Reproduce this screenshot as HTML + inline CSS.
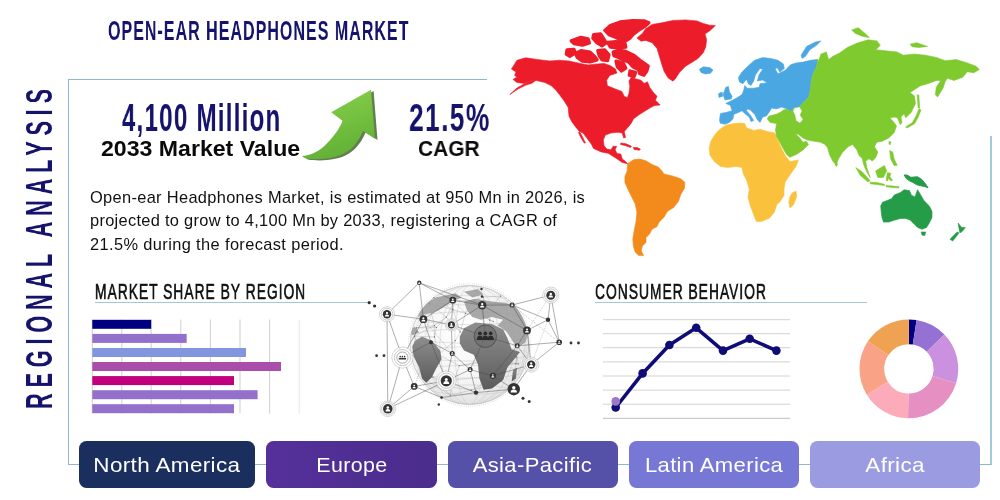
<!DOCTYPE html>
<html><head><meta charset="utf-8">
<style>
html,body{margin:0;padding:0;}
body{width:1000px;height:500px;position:relative;overflow:hidden;background:#fff;font-family:"Liberation Sans",sans-serif;}
.abs{position:absolute;}
.cond,.bold,.body,.btn span{will-change:transform;}
.cond{position:absolute;white-space:nowrap;transform-origin:0 0;line-height:1;font-weight:bold;}
.ln{position:absolute;background:#8fb8cc;}
.btn{position:absolute;top:441px;height:46.6px;border-radius:7.5px;color:#fff;font-size:20.4px;text-align:center;line-height:48px;}
.btn span{display:inline-block;transform:scaleX(1.1);letter-spacing:0.35px;}
.body{position:absolute;left:90px;top:185.8px;font-size:16.4px;letter-spacing:0.29px;line-height:23.4px;color:#111;white-space:nowrap;}
.bold{position:absolute;font-weight:bold;color:#0a0a0a;white-space:nowrap;line-height:1;}
</style></head><body>

<!-- frame -->
<div class="ln" style="left:68px;top:78.9px;width:418.8px;height:1.15px;"></div>
<div class="ln" style="left:68px;top:78.9px;width:1.3px;height:386.3px;"></div>
<div class="ln" style="left:68px;top:464px;width:11px;height:1.2px;"></div>
<div class="ln" style="left:990.1px;top:135.8px;width:1.6px;height:329.4px;background:#a3c9dc;"></div>
<div class="ln" style="left:980px;top:464px;width:11px;height:1.2px;"></div>
<div class="ln" style="left:255px;top:464px;width:11px;height:1.2px;"></div>
<div class="ln" style="left:436px;top:464px;width:12px;height:1.2px;"></div>
<div class="ln" style="left:617px;top:464px;width:12px;height:1.2px;"></div>
<div class="ln" style="left:799px;top:464px;width:11px;height:1.2px;"></div>

<!-- title -->
<div id="title" class="cond" style="left:107.6px;top:16.75px;font-size:27.2px;letter-spacing:1.7px;color:#15136c;transform:scaleX(0.59);">OPEN-EAR HEADPHONES MARKET</div>
<!-- vertical -->
<div id="vert" class="cond" style="left:21.5px;top:408.6px;font-size:36.3px;color:#15136c;letter-spacing:9.6px;transform:rotate(-90deg) scaleX(0.6);">REGIONAL ANALYSIS</div>

<div id="big1" class="cond" style="left:121.5px;top:98.6px;font-size:38.4px;letter-spacing:2px;color:#15136c;transform:scaleX(0.627);">4,100 Million</div>
<div id="sub1" class="bold" style="left:100.5px;top:137.8px;font-size:22.5px;transform-origin:0 0;transform:scaleX(1.027);">2033 Market Value</div>
<div id="big2" class="cond" style="left:408.6px;top:98.6px;font-size:38.4px;letter-spacing:2px;color:#15136c;transform:scaleX(0.687);">21.5%</div>
<div id="sub2" class="bold" style="left:417.5px;top:137.8px;font-size:22.5px;transform-origin:0 0;transform:scaleX(0.93);">CAGR</div>

<div class="body" id="body"><span style="letter-spacing:0.33px">Open-ear Headphones Market, is estimated at 950 Mn in 2026, is</span><br><span style="letter-spacing:0.3px">projected to grow to 4,100 Mn by 2033, registering a CAGR of</span><br><span style="letter-spacing:0.38px">21.5% during the forecast period.</span></div>

<div id="h1" class="cond" style="left:95px;top:281.1px;font-size:22px;letter-spacing:1.6px;font-weight:normal;color:#111;-webkit-text-stroke:0.65px #111;transform:scaleX(0.628);">MARKET SHARE BY REGION</div>
<div class="ln" style="left:95px;top:301.85px;width:273px;height:1.25px;background:#a4c6dc;"></div>
<div id="h2" class="cond" style="left:594.5px;top:281.1px;font-size:22px;letter-spacing:1.6px;font-weight:normal;color:#111;-webkit-text-stroke:0.65px #111;transform:scaleX(0.628);">CONSUMER BEHAVIOR</div>
<div class="ln" style="left:595px;top:301.85px;width:271.5px;height:1.25px;background:#a4c6dc;"></div>

<!-- buttons -->
<div class="btn" style="left:79px;width:176px;background:#1b2f5e;"><span>North America</span></div>
<div class="btn" style="left:266px;width:171px;background:linear-gradient(90deg,#55309a,#4a2d8c);"><span style="transform:scaleX(1.05)">Europe</span></div>
<div class="btn" style="left:447.5px;width:170px;background:#5550a8;"><span style="transform:scaleX(1.078)">Asia-Pacific</span></div>
<div class="btn" style="left:628.5px;width:170.5px;background:#7777d6;"><span style="transform:scaleX(1.08)">Latin America</span></div>
<div class="btn" style="left:810px;width:170px;background:#9b9be2;"><span>Africa</span></div>

<!-- main svg -->
<svg class="abs" style="left:0;top:0;" width="1000" height="500" viewBox="0 0 1000 500">
<!-- BARS -->
<g id="bars">
 <g stroke="#cfcfd6" stroke-width="1">
  <line x1="92.3" y1="319.5" x2="92.3" y2="413.5"/><line x1="121.8" y1="319.5" x2="121.8" y2="413.5"/><line x1="151.2" y1="319.5" x2="151.2" y2="413.5"/><line x1="180.8" y1="319.5" x2="180.8" y2="413.5"/><line x1="210.4" y1="319.5" x2="210.4" y2="413.5"/><line x1="240" y1="319.5" x2="240" y2="413.5"/><line x1="269.6" y1="319.5" x2="269.6" y2="413.5"/><line x1="299.2" y1="319.5" x2="299.2" y2="413.5" stroke="#e6e6ea"/>
 </g>
 <rect x="92.3" y="319.8" width="58.9" height="9" fill="#000080"/>
 <rect x="92.3" y="333.9" width="94.4" height="9" fill="#9370cc"/>
 <rect x="92.3" y="348" width="153.7" height="9" fill="#8296e0"/>
 <rect x="92.3" y="362" width="188.7" height="9" fill="#a94fab"/>
 <rect x="92.3" y="376.1" width="141.7" height="9" fill="#c0007c"/>
 <rect x="92.3" y="390.2" width="165.3" height="9" fill="#9370cc"/>
 <rect x="92.3" y="404.2" width="141.7" height="9" fill="#9370cc"/>
</g>
<!-- LINE CHART -->
<g id="linechart">
 <g stroke="#d2d2d2" stroke-width="1">
  <line x1="603" x2="790" y1="319.7" y2="319.7"/><line x1="603" x2="790" y1="333.7" y2="333.7"/><line x1="603" x2="790" y1="347.7" y2="347.7"/><line x1="603" x2="790" y1="361.9" y2="361.9"/><line x1="603" x2="790" y1="376" y2="376"/><line x1="603" x2="790" y1="390.1" y2="390.1"/><line x1="603" x2="790" y1="404.2" y2="404.2"/><line x1="603" x2="790" y1="418.3" y2="418.3" stroke="#bdbdbd"/>
 </g>
 <polyline fill="none" stroke="#0f0c78" stroke-width="3.6" stroke-linejoin="round" points="615.7,407.5 642.6,373.4 669.4,345 696.2,327.8 723,350.6 749.7,338.8 776.4,350.6"/>
 <g fill="#0f0c78"><circle cx="615.7" cy="407.5" r="4.3"/><circle cx="642.6" cy="373.4" r="4.3"/><circle cx="669.4" cy="345" r="4.3"/><circle cx="696.2" cy="327.8" r="4.3"/><circle cx="723" cy="350.6" r="4.3"/><circle cx="749.7" cy="338.8" r="4.3"/><circle cx="776.4" cy="350.6" r="4.3"/></g>
 <circle cx="615.7" cy="401.4" r="4.3" fill="#9c78c8"/>
</g>
<g id="donut">
<path d="M908.9,319.5A49.4,49.4 0 0 1 916.6,320.1L912.8,344.5A24.7,24.7 0 0 0 908.9,344.2Z" fill="#000080"/>
<path d="M916.6,320.1A49.4,49.4 0 0 1 944.4,334.6L926.7,351.7A24.7,24.7 0 0 0 912.8,344.5Z" fill="#9471d2"/>
<path d="M944.4,334.6A49.4,49.4 0 0 1 956.1,383.3L932.5,376.1A24.7,24.7 0 0 0 926.7,351.7Z" fill="#cb90de"/>
<path d="M956.1,383.3A49.4,49.4 0 0 1 908.0,418.3L908.5,393.6A24.7,24.7 0 0 0 932.5,376.1Z" fill="#e68fc2"/>
<path d="M908.0,418.3A49.4,49.4 0 0 1 866.8,394.7L887.8,381.8A24.7,24.7 0 0 0 908.5,393.6Z" fill="#fbabba"/>
<path d="M866.8,394.7A49.4,49.4 0 0 1 867.9,341.3L888.4,355.1A24.7,24.7 0 0 0 887.8,381.8Z" fill="#f9a286"/>
<path d="M867.9,341.3A49.4,49.4 0 0 1 908.9,319.5L908.9,344.2A24.7,24.7 0 0 0 888.4,355.1Z" fill="#f0a253"/>
</g>
<defs><linearGradient id="ag" x1="0" y1="0" x2="0.3" y2="1"><stop offset="0" stop-color="#8ad24c"/><stop offset="1" stop-color="#63b236"/></linearGradient></defs>
<g id="arrow">
<path id="arrsh" transform="translate(2.6,1.4)" fill="#647e50" d="M301.8,155.9 C310,155.6 320,151.5 327.3,142.9 C334,136.5 339.5,128.5 342.6,120.8 L331.2,112.3 L371,89.7 L374.9,138.7 L363,131 C361,135.5 359,139.5 356.2,142.9 C353,147 350,150 346,152.3 C341.5,155 337.5,156.5 332.4,157.4 C327,158.6 322,159.1 317.1,159.1 C312.5,159 308.5,158.8 305.2,158.2 Z"/>
<path fill="url(#ag)" d="M301.8,155.9 C310,155.6 320,151.5 327.3,142.9 C334,136.5 339.5,128.5 342.6,120.8 L331.2,112.3 L371,89.7 L374.9,138.7 L363,131 C361,135.5 359,139.5 356.2,142.9 C353,147 350,150 346,152.3 C341.5,155 337.5,156.5 332.4,157.4 C327,158.6 322,159.1 317.1,159.1 C312.5,159 308.5,158.8 305.2,158.2 Z"/>
</g>
<g id="map" stroke-linejoin="round">
<polygon fill="#ec1c2a" stroke="#ec1c2a" stroke-width="0.6" points="517,60.2 525.8,57.8 537,59.4 549.8,61 559.4,60.2 569,61 580.2,63.4 588.2,65 594.6,64.2 604.2,63.4 610.6,65.8 615.4,69 617,73 609.8,75.4 606.6,80.2 607.4,85.8 615.4,89 621.8,91.4 624.2,96.2 627.4,97.8 629,93 629.8,86.6 629,81 631.4,77 634.6,78.6 641,80.2 644.2,83.4 647.4,81.8 649.8,87.4 653.8,93 657,96.2 655.4,100.2 660.2,105 654.6,105.5 650.2,107.8 644.6,111.3 639,114.8 633.4,119 631.3,123.2 627.8,127.4 624.3,131.6 625.5,137.5 623.6,137.9 622.2,133 618,132.3 611,133 605.4,135.1 603.3,140 604,145.6 606.8,149.1 611,149.8 613.1,146.3 616.6,146.3 615.2,149.8 617,153.5 620.8,154 622.2,158.9 625,161 627.8,163.8 622.2,162.4 618,159.6 613.8,156.8 608.2,153.3 601.2,151.9 593.5,148.4 591.4,144.2 587.2,138.6 583,133 579.5,131.6 576,127.4 571.8,121.8 569,116.2 568.3,109.2 568.2,107.4 564.2,101 559.4,94.6 556.2,90.6 551.4,85.8 545,82.6 535.4,80.2 530.6,81 524.2,83.4 517,82.6 513,79.4 517,77 514.6,75.4 516,72 511.4,69 514,65"/>
<polygon fill="#ec1c2a" stroke="#ec1c2a" stroke-width="0.6" points="536,80.3 530,81.2 524,84 517,88 509.8,94.6 518,89 526,85 532,83.2"/>
<polygon fill="#ec1c2a" stroke="#ec1c2a" stroke-width="0.6" points="579.5,131.6 582,136 585.5,143 584.2,143 580.5,137 578.5,132.5"/>
<polygon fill="#ec1c2a" stroke="#ec1c2a" stroke-width="3.3" points="604.8,30.4 610.4,25.5 620.2,22 632.8,20.6 644,20.9 648.9,22.7 644,26.9 638.4,30.4 632.8,34.6 630,38.1 625.8,40.9 620.2,40.2 616,37.4 609,34.6"/>
<polygon fill="#ec1c2a" stroke="#ec1c2a" stroke-width="3.3" points="571.2,40.9 581,37.4 588,38.8 589.4,43 582.4,45.1 574,43.7"/>
<polygon fill="#ec1c2a" stroke="#ec1c2a" stroke-width="3.3" points="593.6,34.6 600.6,33.9 603.4,38.1 606.2,43 602,45.8 596.4,42.3 592.9,38.1"/>
<polygon fill="#ec1c2a" stroke="#ec1c2a" stroke-width="3.3" points="607.6,42.3 616,41.6 625.1,43.7 625.8,47.2 618.8,47.9 610.4,47.2"/>
<polygon fill="#ec1c2a" stroke="#ec1c2a" stroke-width="3.3" points="567,50 574,49.3 575.4,52.8 569.8,56.3 566.3,54.2"/>
<polygon fill="#ec1c2a" stroke="#ec1c2a" stroke-width="3.3" points="575.4,53.5 581,50.7 590.1,52.1 595,57 597.1,59.8 590.1,61.9 582.4,61.2 577.5,57.7"/>
<polygon fill="#ec1c2a" stroke="#ec1c2a" stroke-width="3.3" points="597.8,50.7 604.8,50 609,54.9 607.6,60.5 602,59.8 599.2,55.6"/>
<polygon fill="#ec1c2a" stroke="#ec1c2a" stroke-width="3.3" points="613.2,52.1 618.8,50 625.8,51.4 634.2,55.6 641.2,61.2 648.2,66.1 646.8,71 644,75.2 639.8,73.8 638.4,69.6 632.8,66.8 628.6,61.9 623,59.8 617.4,57 613.9,55.6"/>
<polygon fill="#ec1c2a" stroke="#ec1c2a" stroke-width="3.3" points="616,61.2 623,62.6 625.8,68.2 621.6,71 617.4,66.8"/>
<polygon fill="#ec1c2a" stroke="#ec1c2a" stroke-width="3.3" points="630,71 635.6,72.4 634.2,76.6 629.3,75.2"/>
<polygon fill="#ec1c2a" stroke="#ec1c2a" stroke-width="0.6" points="620.8,143 626,143.8 631.5,146.3 630.5,147.4 625,145.6 620.5,144.4"/>
<polygon fill="#ec1c2a" stroke="#ec1c2a" stroke-width="0.6" points="633.4,147.4 637,147.6 640.4,149 639.5,150.2 634,149.4"/>
<polygon fill="#ec1c2a" stroke="#ec1c2a" stroke-width="0.6" points="637,38 642.6,33.2 645.8,28.4 652.2,24.4 661.8,22.8 673,20.4 685.8,19.9 697,20.9 703.4,23.6 709.8,25.2 715.4,25.5 709.8,30.8 705,34 706.6,39.6 705.8,46.8 703.4,52.4 698.6,58 693.8,61.2 685.8,66 679.4,72.4 675.4,78.8 673,81.2 668.2,78 664.2,71.6 661.8,64.4 659.4,56.4 657,48.4 652.2,42.8 645.8,40.4 641,41.2"/>
<polygon fill="#f38b1c" stroke="#f38b1c" stroke-width="0.6" points="628,163.2 634,159.6 640,159.1 646,160.8 652,164.4 658,166.8 661.6,170.4 664,174 672.4,175.9 680.8,178.8 684.9,182.4 684.4,188.4 680.8,194.4 678.4,201.6 673.6,207.6 667.6,211.2 664,217.2 659.2,222 656.8,226.8 652,229.2 649.6,234 646,237.6 646,242.4 642.4,246 641.2,250.8 643.6,255.6 638.8,255.6 635.2,252 633.3,246 632.8,238.8 634,231.6 635.9,222 636.9,212.4 635.2,204 631.6,196.8 628,189.6 624.9,182.4 624.9,176.4 627.3,170.4 627.3,165.6"/>
<polygon fill="#fac23c" stroke="#fac23c" stroke-width="0.6" points="721.6,128 726.4,124.9 736,123.2 744.4,123.2 746.8,128 754,130.4 760,129.2 767.2,131.6 774.4,132.8 776.8,136.4 780.4,146 785.2,155.6 790,161.6 798.4,159.9 796,166.4 790,174.8 785.2,182 784,189.2 784,195.2 780.4,201.2 776.8,204.8 774.4,212 769.6,218 761.2,221.6 756.4,221.6 754,215.6 750.4,206 748,197.6 749.2,189.2 746.8,180.8 743.2,173.6 742,167.6 736,166.4 727.6,167.6 720.4,166.4 714.4,161.6 710.1,155.6 709.1,148.4 710.8,141.2 714.4,135.2 718,131.1"/>
<polygon fill="#fac23c" stroke="#fac23c" stroke-width="0.6" points="792.4,192.8 796,191.1 796.7,196.4 793.6,204.8 790,207.9 788.8,202.4 790,196.4"/>
<polygon fill="#4aa7e1" stroke="#4aa7e1" stroke-width="0.6" points="719.5,120.6 720.4,113.4 725.8,112.5 732.1,110.7 730.3,105.3 725.8,103.5 731.2,100.8 736.6,98.1 742,94.5 743.8,90 744.7,85.5 747.4,88.2 753.7,88.2 759.1,87.3 760,83.7 767.2,82.8 762.7,80.1 757.3,81 759.1,74.7 762.7,69.3 760,68.4 755.5,74.7 753.7,81 751,85.5 748.3,83.7 746.5,79.2 742.9,83.7 739.3,81.9 738.4,77.4 742,72 748.3,65.7 754.6,60.3 762.7,57.6 770.8,58.5 778,60.3 783.4,63.9 784.3,68.4 779.8,72 777.1,67.5 775.3,69.3 778,73.8 785.2,70.2 790.6,64.8 796,63 803.2,62.1 810.4,60.3 817.6,59.4 816.7,66.6 813.1,73.8 811.3,81 810.4,90 808.6,97.2 803.2,102.6 799.6,107.1 794.2,108 790.6,111.6 787,108.9 781.6,107.1 776.2,108.9 771.7,108 769,112.5 766.3,116.1 762.7,117 760,122.4 757.3,119.7 754.6,114.3 750.1,109.8 747.4,108.9 746.5,110.7 751,116.1 753.7,120.6 751,121.5 749.2,117 744.7,113.4 742,110.7 738.4,112.5 733.9,114.3 733,118.8 729.4,122.4 724.9,124.2 720.4,123.3"/>
<polygon fill="#4aa7e1" stroke="#4aa7e1" stroke-width="0.6" points="723.1,94.5 725.8,87.3 728.5,86.4 729.4,91.8 732.1,96.3 731.2,99 724.9,99.9"/>
<polygon fill="#4aa7e1" stroke="#4aa7e1" stroke-width="0.6" points="718.6,93.6 722.2,92.1 722.6,96.3 719,97.5"/>
<polygon fill="#4aa7e1" stroke="#4aa7e1" stroke-width="0.6" points="699.4,69.2 703.4,66.8 709.8,67.6 713,70 710.6,73.2 705,74 701,72.4"/>
<polygon fill="#4aa7e1" stroke="#4aa7e1" stroke-width="0.6" points="801.1,55.2 806.6,46.4 815.4,42 820.9,40.9 816.5,45.3 809.9,49.7 805.5,56.3 802.2,58.5"/>
<polygon fill="#7fca2e" stroke="#7fca2e" stroke-width="0.6" points="817.6,59.4 818.7,60.7 820.9,54.1 826.4,51.9 828.6,59.6 833,56.3 839.6,53 847.3,47.5 857.2,43.1 868.2,39.8 877,40.9 880.3,45.3 875.9,49.7 885.8,50.8 896.8,51.9 903.4,55.2 914.4,54.1 925.4,55.2 936.4,57.4 945.2,60.7 956.2,59.6 967.2,62.9 976,66.2 979.3,69.5 973.8,72.8 967.2,71.7 962.8,77.2 954,80.5 947.4,78.3 945.2,81.6 943,88.2 937.5,97 935.3,94.8 936.4,87.1 940.8,80.5 936.4,80.5 927.6,83.8 919.9,86 913.3,90.4 910,92.6 914.4,95.9 915.5,103.6 911.1,112.4 905.6,117.9 904.2,113.7 900.9,117 902,122.5 900.2,124.7 897.6,118.1 894.3,117 889.9,118.1 893.2,121.4 896.5,125.8 894.3,132.4 888.8,137.9 882.2,141.2 876.7,142.3 874.5,146.7 877.8,152.2 875.6,157.7 872.3,161 869,158.8 865.7,161 866.8,167.6 870.1,177.5 866.8,172 863.5,164.3 862.4,158.8 859.1,155.5 856.9,150 852.5,144.5 848.1,146.7 842.6,152.2 838.6,158.8 836,165 832.7,161 829.4,154.4 827.6,147.8 825,144.5 820.6,142.3 814,141.2 807.4,140.1 803,137.9 798.6,134.6 795.3,133.5 799.7,137.9 803,142.3 806.3,141.2 808.5,144.5 803,150 796.4,154.4 789.8,157.3 786.5,154.4 782.1,146.7 777.7,137.9 776.6,136.8 775.5,130.2 776.6,123.6 770,122.5 767.2,118.8 769,116.1 776.2,114.3 781,112 783.4,110 787,108.9 790.6,111.6 794.2,108 799.6,107.1 803.2,102.6 808.6,97.2 810.4,90 811.3,81 813.1,73.8 816.7,66.6"/>
<polygon fill="#ffffff" stroke="#ffffff" stroke-width="0.6" points="794.5,108.5 799.5,107.5 801.5,111 799.5,115 802.5,119.5 800,122.5 796.5,120.5 795.5,115 793.5,111.5"/>
<polygon fill="#7fca2e" stroke="#7fca2e" stroke-width="0.6" points="851.7,29.9 858.3,27.7 866,34.3 869.3,37.6 862.7,36.5 855,33.2"/>
<polygon fill="#7fca2e" stroke="#7fca2e" stroke-width="0.6" points="910,44.2 916.6,42.7 927.6,46.4 918.8,47.5 912.2,46.8"/>
<polygon fill="#7fca2e" stroke="#7fca2e" stroke-width="0.6" points="917.2,94.8 918.8,95 919.6,108 918.2,108"/>
<polygon fill="#7fca2e" stroke="#7fca2e" stroke-width="0.6" points="919,108.8 921,110 918,117.5 914.5,123.8 907,128 905.6,127 912.5,122.5 916,116"/>
<polygon fill="#7fca2e" stroke="#7fca2e" stroke-width="0.6" points="889.6,150.5 892.8,152.2 894,158.6 897.2,165.4 894,165.4 890.7,159"/>
<polygon fill="#7fca2e" stroke="#7fca2e" stroke-width="0.6" points="875.6,170.9 884.4,165.4 886.6,170.9 883.3,177.5 877.8,177.5"/>
<polygon fill="#7fca2e" stroke="#7fca2e" stroke-width="0.6" points="855.8,167.6 862.4,172 870.1,180.8 867.9,181.9 860.2,175.3"/>
<polygon fill="#7fca2e" stroke="#7fca2e" stroke-width="0.6" points="870.1,182.2 877,182.6 884.4,184.2 884.4,185.6 877,184.6 870.1,183.8"/>
<polygon fill="#7fca2e" stroke="#7fca2e" stroke-width="0.6" points="886,185.5 893,186 899,186.8 899,188 892,187.4 886,186.8"/>
<polygon fill="#7fca2e" stroke="#7fca2e" stroke-width="0.6" points="887.5,172.5 891,173.5 889.8,176.5 892.5,180.3 890.5,180.8 888.6,178 887.6,181 886.2,180.8 886.8,176"/>
<polygon fill="#7fca2e" stroke="#7fca2e" stroke-width="0.6" points="889,141.5 890.8,141.8 890.4,144.6 889,144.2"/>
<polygon fill="#7fca2e" stroke="#7fca2e" stroke-width="0.6" points="835.6,162.8 837.4,163.6 836.8,166.2 835.4,165.4"/>
<polygon fill="#259c48" stroke="#259c48" stroke-width="0.6" points="880.7,205.9 882.5,202.3 891.5,198.7 894.2,195.1 900.5,192.4 904.1,189.7 909.5,190.6 911.3,195.1 914.9,196.9 917.6,189.7 920.3,194.2 923.9,200.5 929.3,205.9 932,211.3 932,217.6 929.3,223 926.6,227.5 922.1,229.3 917.6,227.5 913.1,223 910.4,220.3 905.9,218.5 900.5,218.5 894.2,220.3 888.8,222.1 883.4,222.1 882,217.6 881.2,212.2"/>
<polygon fill="#259c48" stroke="#259c48" stroke-width="0.6" points="921.2,232 925.7,232 924.8,235.6 922.1,235.2"/>
<polygon fill="#259c48" stroke="#259c48" stroke-width="0.6" points="958.1,223 961.7,227.5 965.3,227.5 962.6,231.1 959.9,232.9 959,228.4"/>
<polygon fill="#259c48" stroke="#259c48" stroke-width="0.6" points="959,232.9 956.3,236.5 952.7,241 950,239.2 953.6,235.6 957.2,232"/>
<polygon fill="#259c48" stroke="#259c48" stroke-width="1.0" points="904.1,175 907,175 910.8,177.3 917.4,176.8 921.5,179.2 924.6,182.7 928,187.6 924,186.4 920,185.6 916.3,184.6 913,182.4 909.8,181 906.4,178.6"/>
</g>
<g id="globe">
<defs><radialGradient id="gg" cx="0.45" cy="0.4" r="0.6"><stop offset="0" stop-color="#ffffff"/><stop offset="0.7" stop-color="#f4f4f4"/><stop offset="1" stop-color="#e2e2e2"/></radialGradient><linearGradient id="lg" x1="0" y1="0" x2="0" y2="1"><stop offset="0" stop-color="#8e8e8e"/><stop offset="1" stop-color="#5c5c5c"/></linearGradient><clipPath id="gc"><circle cx="469.6" cy="345.0" r="59.6"/></clipPath></defs>
<circle cx="469.6" cy="345.0" r="59.6" fill="url(#gg)" stroke="#b5b5b5" stroke-width="0.6"/>
<g fill="none" stroke="#c4c4c4" stroke-width="0.45" clip-path="url(#gc)"><ellipse cx="469.6" cy="345.0" rx="14.9" ry="59.6"/><ellipse cx="469.6" cy="345.0" rx="29.8" ry="59.6"/><ellipse cx="469.6" cy="345.0" rx="44.7" ry="59.6"/><ellipse cx="469.6" cy="345.0" rx="55.4" ry="59.6"/><ellipse cx="469.6" cy="300.3" rx="39.4" ry="4.7"/><ellipse cx="469.6" cy="318.2" rx="53.2" ry="6.4"/><ellipse cx="469.6" cy="336.1" rx="58.9" ry="7.1"/><ellipse cx="469.6" cy="353.9" rx="58.9" ry="7.1"/><ellipse cx="469.6" cy="371.8" rx="53.2" ry="6.4"/><ellipse cx="469.6" cy="389.7" rx="39.4" ry="4.7"/></g>
<g stroke="#9d9d9d" stroke-width="0.35" clip-path="url(#gc)"><line x1="459.2" y1="365.7" x2="479.6" y2="362.8"/><line x1="459.2" y1="365.7" x2="451.7" y2="387.0"/><line x1="459.2" y1="365.7" x2="482.2" y2="361.1"/><line x1="459.2" y1="365.7" x2="438.4" y2="354.5"/><line x1="460.2" y1="332.0" x2="455.3" y2="340.6"/><line x1="460.2" y1="332.0" x2="465.5" y2="313.3"/><line x1="460.2" y1="332.0" x2="446.2" y2="317.1"/><line x1="460.2" y1="332.0" x2="453.1" y2="309.7"/><line x1="434.5" y1="336.9" x2="436.4" y2="327.5"/><line x1="434.5" y1="336.9" x2="434.3" y2="325.6"/><line x1="434.5" y1="336.9" x2="438.4" y2="354.5"/><line x1="434.5" y1="336.9" x2="414.5" y2="336.2"/><line x1="509.3" y1="360.1" x2="507.8" y2="354.2"/><line x1="509.3" y1="360.1" x2="504.5" y2="364.4"/><line x1="509.3" y1="360.1" x2="515.9" y2="363.6"/><line x1="509.3" y1="360.1" x2="516.8" y2="356.9"/><line x1="507.8" y1="354.2" x2="509.7" y2="350.7"/><line x1="507.8" y1="354.2" x2="516.8" y2="356.9"/><line x1="507.8" y1="354.2" x2="504.5" y2="364.4"/><line x1="485.8" y1="352.6" x2="494.8" y2="354.9"/><line x1="485.8" y1="352.6" x2="482.2" y2="361.1"/><line x1="485.8" y1="352.6" x2="482.3" y2="343.1"/><line x1="485.8" y1="352.6" x2="489.9" y2="342.5"/><line x1="421.4" y1="369.7" x2="424.5" y2="370.5"/><line x1="421.4" y1="369.7" x2="426.5" y2="380.2"/><line x1="421.4" y1="369.7" x2="432.9" y2="377.0"/><line x1="421.4" y1="369.7" x2="421.7" y2="352.9"/><line x1="489.7" y1="364.8" x2="490.0" y2="366.5"/><line x1="489.7" y1="364.8" x2="482.2" y2="361.1"/><line x1="489.7" y1="364.8" x2="479.6" y2="362.8"/><line x1="489.7" y1="364.8" x2="494.8" y2="354.9"/><line x1="429.2" y1="303.4" x2="433.8" y2="297.6"/><line x1="429.2" y1="303.4" x2="446.2" y2="317.1"/><line x1="429.2" y1="303.4" x2="434.3" y2="325.6"/><line x1="429.2" y1="303.4" x2="453.1" y2="309.7"/><line x1="436.4" y1="327.5" x2="434.3" y2="325.6"/><line x1="436.4" y1="327.5" x2="446.2" y2="317.1"/><line x1="436.4" y1="327.5" x2="416.3" y2="327.9"/><line x1="482.3" y1="343.1" x2="489.9" y2="342.5"/><line x1="482.3" y1="343.1" x2="494.8" y2="354.9"/><line x1="482.3" y1="343.1" x2="482.2" y2="361.1"/><line x1="489.8" y1="320.1" x2="493.3" y2="321.5"/><line x1="489.8" y1="320.1" x2="483.5" y2="316.4"/><line x1="489.8" y1="320.1" x2="489.9" y2="342.5"/><line x1="489.8" y1="320.1" x2="483.3" y2="297.1"/><line x1="482.2" y1="361.1" x2="479.6" y2="362.8"/><line x1="482.2" y1="361.1" x2="490.0" y2="366.5"/><line x1="450.3" y1="395.2" x2="451.7" y2="387.0"/><line x1="450.3" y1="395.2" x2="471.3" y2="390.1"/><line x1="450.3" y1="395.2" x2="432.9" y2="377.0"/><line x1="450.3" y1="395.2" x2="426.5" y2="380.2"/><line x1="488.8" y1="386.2" x2="493.7" y2="379.0"/><line x1="488.8" y1="386.2" x2="471.3" y2="390.1"/><line x1="488.8" y1="386.2" x2="490.0" y2="366.5"/><line x1="446.2" y1="317.1" x2="453.1" y2="309.7"/><line x1="446.2" y1="317.1" x2="434.3" y2="325.6"/><line x1="446.2" y1="317.1" x2="454.1" y2="301.7"/><line x1="455.3" y1="340.6" x2="438.4" y2="354.5"/><line x1="494.8" y1="354.9" x2="490.0" y2="366.5"/><line x1="453.1" y1="309.7" x2="454.1" y2="301.7"/><line x1="453.1" y1="309.7" x2="465.5" y2="313.3"/><line x1="453.1" y1="309.7" x2="433.8" y2="297.6"/><line x1="451.7" y1="387.0" x2="471.3" y2="390.1"/><line x1="451.7" y1="387.0" x2="432.9" y2="377.0"/><line x1="438.4" y1="354.5" x2="421.7" y2="352.9"/><line x1="438.4" y1="354.5" x2="424.5" y2="370.5"/><line x1="483.3" y1="297.1" x2="473.7" y2="300.1"/><line x1="483.3" y1="297.1" x2="500.6" y2="296.1"/><line x1="483.3" y1="297.1" x2="483.5" y2="316.4"/><line x1="471.3" y1="390.1" x2="493.7" y2="379.0"/><line x1="414.5" y1="336.2" x2="416.3" y2="327.9"/><line x1="414.5" y1="336.2" x2="421.7" y2="352.9"/><line x1="414.5" y1="336.2" x2="434.3" y2="325.6"/><line x1="465.5" y1="313.3" x2="473.7" y2="300.1"/><line x1="465.5" y1="313.3" x2="454.1" y2="301.7"/><line x1="465.5" y1="313.3" x2="483.5" y2="316.4"/><line x1="424.5" y1="370.5" x2="426.5" y2="380.2"/><line x1="424.5" y1="370.5" x2="432.9" y2="377.0"/><line x1="424.5" y1="370.5" x2="421.7" y2="352.9"/><line x1="493.7" y1="379.0" x2="490.0" y2="366.5"/><line x1="493.7" y1="379.0" x2="504.5" y2="364.4"/><line x1="516.8" y1="356.9" x2="515.9" y2="363.6"/><line x1="516.8" y1="356.9" x2="518.3" y2="363.9"/><line x1="516.8" y1="356.9" x2="509.7" y2="350.7"/><line x1="473.7" y1="300.1" x2="483.5" y2="316.4"/><line x1="473.7" y1="300.1" x2="454.1" y2="301.7"/><line x1="493.3" y1="321.5" x2="483.5" y2="316.4"/><line x1="434.3" y1="325.6" x2="416.3" y2="327.9"/><line x1="500.6" y1="296.1" x2="483.5" y2="316.4"/><line x1="515.9" y1="363.6" x2="518.3" y2="363.9"/><line x1="515.9" y1="363.6" x2="504.5" y2="364.4"/><line x1="432.9" y1="377.0" x2="426.5" y2="380.2"/><line x1="479.6" y1="362.8" x2="490.0" y2="366.5"/><line x1="518.3" y1="363.9" x2="504.5" y2="364.4"/></g>
<g fill="#555"><circle cx="459.2" cy="365.7" r="0.55"/><circle cx="460.2" cy="332.0" r="0.55"/><circle cx="434.5" cy="336.9" r="0.55"/><circle cx="509.3" cy="360.1" r="0.55"/><circle cx="507.8" cy="354.2" r="0.55"/><circle cx="485.8" cy="352.6" r="0.55"/><circle cx="421.4" cy="369.7" r="0.55"/><circle cx="489.7" cy="364.8" r="0.55"/><circle cx="429.2" cy="303.4" r="0.55"/><circle cx="436.4" cy="327.5" r="0.55"/><circle cx="482.3" cy="343.1" r="0.55"/><circle cx="489.8" cy="320.1" r="0.55"/><circle cx="482.2" cy="361.1" r="0.55"/><circle cx="450.3" cy="395.2" r="0.55"/><circle cx="488.8" cy="386.2" r="0.55"/><circle cx="446.2" cy="317.1" r="0.55"/><circle cx="455.3" cy="340.6" r="0.55"/><circle cx="494.8" cy="354.9" r="0.55"/><circle cx="453.1" cy="309.7" r="0.55"/><circle cx="451.7" cy="387.0" r="0.55"/><circle cx="438.4" cy="354.5" r="0.55"/><circle cx="483.3" cy="297.1" r="0.55"/><circle cx="471.3" cy="390.1" r="0.55"/><circle cx="414.5" cy="336.2" r="0.55"/><circle cx="465.5" cy="313.3" r="0.55"/><circle cx="489.9" cy="342.5" r="0.55"/><circle cx="424.5" cy="370.5" r="0.55"/><circle cx="493.7" cy="379.0" r="0.55"/><circle cx="516.8" cy="356.9" r="0.55"/><circle cx="473.7" cy="300.1" r="0.55"/><circle cx="493.3" cy="321.5" r="0.55"/><circle cx="454.1" cy="301.7" r="0.55"/><circle cx="434.3" cy="325.6" r="0.55"/><circle cx="500.6" cy="296.1" r="0.55"/><circle cx="421.7" cy="352.9" r="0.55"/><circle cx="515.9" cy="363.6" r="0.55"/><circle cx="433.8" cy="297.6" r="0.55"/><circle cx="483.5" cy="316.4" r="0.55"/><circle cx="432.9" cy="377.0" r="0.55"/><circle cx="509.7" cy="350.7" r="0.55"/><circle cx="479.6" cy="362.8" r="0.55"/><circle cx="518.3" cy="363.9" r="0.55"/><circle cx="490.0" cy="366.5" r="0.55"/><circle cx="426.5" cy="380.2" r="0.55"/><circle cx="504.5" cy="364.4" r="0.55"/><circle cx="416.3" cy="327.9" r="0.55"/></g>
<circle cx="469.6" cy="345.0" r="61.2" fill="none" stroke="#8a8a8a" stroke-width="0.5" stroke-dasharray="0.6 1.6"/>
<g clip-path="url(#gc)">
<polygon points="464.0,301.6 475.2,298.8 492.0,301.6 506.0,303.0 520.0,308.6 525.6,319.8 528.4,331.0 525.6,342.2 517.2,347.8 511.6,339.4 506.0,331.0 497.6,325.4 503.2,319.8 492.0,317.0 480.8,319.8 472.4,317.0 466.8,310.0" fill="#9a9a9a" opacity="0.85"/>
<polygon points="422.0,305.8 436.0,297.4 455.6,293.2 461.2,297.4 450.0,303.0 441.6,308.6 433.2,312.8 424.8,314.2 417.8,317.0" fill="#9a9a9a" opacity="0.85"/>
<polygon points="464.0,291.8 478.0,289.0 483.6,294.6 472.4,297.4" fill="#9a9a9a" opacity="0.85"/>
<polygon points="408.0,331.0 415.0,326.8 419.2,332.4 412.2,335.2" fill="#9a9a9a" opacity="0.85"/>
<polygon points="459.8,336.6 464.0,328.2 475.2,322.6 492.0,324.0 503.2,329.6 507.4,338.0 511.6,349.2 520.0,352.0 514.4,359.0 507.4,367.4 503.2,380.0 492.0,388.4 483.6,389.8 479.4,378.6 478.0,364.6 473.8,354.8 464.0,350.6 459.8,343.6" fill="url(#lg)"/>
<polygon points="415.0,340.8 422.0,336.6 431.8,340.8 440.2,350.6 441.6,359.0 436.0,368.8 431.8,377.2 426.2,382.8 422.0,378.6 419.2,367.4 413.6,356.2 412.2,346.4" fill="url(#lg)"/>
<polygon points="513.0,370.2 517.2,367.4 515.8,378.6 511.6,381.4" fill="url(#lg)"/>
</g>
<g stroke="#4a4a4a" stroke-width="0.45"><line x1="387.0" y1="314.2" x2="419.2" y2="282.8"/><line x1="419.2" y1="282.8" x2="452.8" y2="300.2"/><line x1="419.2" y1="282.8" x2="423.4" y2="319.2"/><line x1="387.0" y1="314.2" x2="423.4" y2="319.2"/><line x1="387.0" y1="314.2" x2="402.4" y2="357.6"/><line x1="402.4" y1="357.6" x2="387.8" y2="408.8"/><line x1="387.8" y1="408.8" x2="414.2" y2="386.4"/><line x1="414.2" y1="386.4" x2="446.3" y2="380.8"/><line x1="387.8" y1="408.8" x2="446.3" y2="380.8"/><line x1="402.4" y1="357.6" x2="414.2" y2="386.4"/><line x1="446.3" y1="380.8" x2="476.0" y2="392.6"/><line x1="476.0" y1="392.6" x2="513.8" y2="389.2"/><line x1="513.8" y1="389.2" x2="531.2" y2="364.6"/><line x1="531.2" y1="364.6" x2="559.2" y2="342.2"/><line x1="559.2" y1="342.2" x2="548.0" y2="319.8"/><line x1="548.0" y1="319.8" x2="550.8" y2="295.2"/><line x1="550.8" y1="295.2" x2="512.1" y2="305.0"/><line x1="512.1" y1="305.0" x2="482.2" y2="305.2"/><line x1="482.2" y1="305.2" x2="452.8" y2="300.2"/><line x1="452.8" y1="300.2" x2="423.4" y2="319.2"/><line x1="423.4" y1="319.2" x2="451.4" y2="324.8"/><line x1="451.4" y1="324.8" x2="482.2" y2="305.2"/><line x1="451.4" y1="324.8" x2="452.2" y2="353.4"/><line x1="452.2" y1="353.4" x2="446.3" y2="380.8"/><line x1="452.2" y1="353.4" x2="470.1" y2="369.6"/><line x1="470.1" y1="369.6" x2="492.8" y2="375.8"/><line x1="492.8" y1="375.8" x2="513.8" y2="389.2"/><line x1="492.8" y1="375.8" x2="531.2" y2="364.6"/><line x1="531.2" y1="364.6" x2="527.0" y2="330.4"/><line x1="527.0" y1="330.4" x2="512.1" y2="305.0"/><line x1="527.0" y1="330.4" x2="517.2" y2="345.8"/><line x1="517.2" y1="345.8" x2="531.2" y2="364.6"/><line x1="512.1" y1="305.0" x2="548.0" y2="319.8"/><line x1="550.8" y1="295.2" x2="559.2" y2="342.2"/><line x1="482.2" y1="305.2" x2="527.0" y2="330.4"/><line x1="431.0" y1="342.2" x2="423.4" y2="319.2"/><line x1="431.0" y1="342.2" x2="446.3" y2="380.8"/><line x1="431.0" y1="342.2" x2="452.2" y2="353.4"/><line x1="452.8" y1="300.2" x2="451.4" y2="324.8"/><line x1="402.4" y1="357.6" x2="423.4" y2="319.2"/><line x1="470.1" y1="369.6" x2="476.0" y2="392.6"/><line x1="470.1" y1="369.6" x2="446.3" y2="380.8"/><line x1="517.2" y1="345.8" x2="492.8" y2="375.8"/><line x1="485.3" y1="336.3" x2="517.2" y2="345.8"/><line x1="485.3" y1="336.3" x2="451.4" y2="324.8"/><line x1="485.3" y1="336.3" x2="470.1" y2="369.6"/><line x1="482.2" y1="305.2" x2="485.3" y2="336.3"/><line x1="414.2" y1="386.4" x2="441.6" y2="397.6"/><line x1="441.6" y1="397.6" x2="476.0" y2="392.6"/><line x1="402.4" y1="357.6" x2="431.0" y2="342.2"/><line x1="548.0" y1="319.8" x2="527.0" y2="330.4"/><line x1="559.2" y1="342.2" x2="517.2" y2="345.8"/><line x1="387.0" y1="314.2" x2="387.8" y2="408.8"/><line x1="419.2" y1="282.8" x2="482.2" y2="305.2"/></g>
<g stroke="#777" stroke-width="0.4" stroke-dasharray="1 1"><line x1="512.1" y1="305.0" x2="559.2" y2="342.2"/><line x1="550.8" y1="295.2" x2="527.0" y2="330.4"/><line x1="531.2" y1="364.6" x2="548.0" y2="319.8"/><line x1="513.8" y1="389.2" x2="517.2" y2="345.8"/><line x1="446.3" y1="380.8" x2="492.8" y2="375.8"/><line x1="423.4" y1="319.2" x2="452.2" y2="353.4"/><line x1="452.8" y1="300.2" x2="512.1" y2="305.0"/><line x1="414.2" y1="386.4" x2="431.0" y2="342.2"/></g>
<circle cx="387.0" cy="314.2" r="7.6" fill="#fff" fill-opacity="0.85" stroke="#999" stroke-width="0.4"/>
<circle cx="387.0" cy="314.2" r="5.9" fill="none" stroke="#777" stroke-width="0.4"/>
<circle cx="387.0" cy="314.2" r="4.2" fill="#343434"/>
<circle cx="387.0" cy="313.1" r="1.13" fill="#fff"/>
<path d="M384.8,316.5 a2.18,2.10 0 0 1 4.37,0 z" fill="#fff"/>
<circle cx="419.2" cy="282.8" r="2.2" fill="#343434"/>
<circle cx="419.2" cy="282.3" r="0.60" fill="#fff"/>
<path d="M418.0,284.1 a1.16,1.12 0 0 1 2.33,0 z" fill="#fff"/>
<circle cx="452.8" cy="300.2" r="3.4" fill="#343434"/>
<circle cx="452.8" cy="299.4" r="0.91" fill="#fff"/>
<path d="M451.0,302.0 a1.75,1.68 0 0 1 3.49,0 z" fill="#fff"/>
<circle cx="482.2" cy="305.2" r="4.2" fill="#343434"/>
<circle cx="482.2" cy="304.2" r="1.13" fill="#fff"/>
<path d="M480.0,307.5 a2.18,2.10 0 0 1 4.37,0 z" fill="#fff"/>
<circle cx="512.1" cy="305.0" r="2.5" fill="#343434"/>
<circle cx="512.1" cy="304.3" r="0.68" fill="#fff"/>
<path d="M510.8,306.3 a1.31,1.26 0 0 1 2.62,0 z" fill="#fff"/>
<circle cx="550.8" cy="295.2" r="8.1" fill="#fff" fill-opacity="0.85" stroke="#999" stroke-width="0.4"/>
<circle cx="550.8" cy="295.2" r="6.3" fill="none" stroke="#777" stroke-width="0.4"/>
<circle cx="550.8" cy="295.2" r="4.5" fill="#343434"/>
<circle cx="550.8" cy="294.0" r="1.21" fill="#fff"/>
<path d="M548.4,297.6 a2.33,2.24 0 0 1 4.66,0 z" fill="#fff"/>
<circle cx="548.0" cy="319.8" r="2.2" fill="#343434"/>
<circle cx="559.2" cy="342.2" r="2.8" fill="#343434"/>
<circle cx="559.2" cy="341.5" r="0.76" fill="#fff"/>
<path d="M557.7,343.7 a1.46,1.40 0 0 1 2.91,0 z" fill="#fff"/>
<circle cx="527.0" cy="330.4" r="3.9" fill="#343434"/>
<circle cx="527.0" cy="329.5" r="1.06" fill="#fff"/>
<path d="M524.9,332.6 a2.04,1.96 0 0 1 4.08,0 z" fill="#fff"/>
<circle cx="517.2" cy="345.8" r="2.5" fill="#343434"/>
<circle cx="517.2" cy="345.2" r="0.68" fill="#fff"/>
<path d="M515.9,347.2 a1.31,1.26 0 0 1 2.62,0 z" fill="#fff"/>
<circle cx="531.2" cy="364.6" r="7.6" fill="#fff" fill-opacity="0.85" stroke="#999" stroke-width="0.4"/>
<circle cx="531.2" cy="364.6" r="5.9" fill="none" stroke="#777" stroke-width="0.4"/>
<circle cx="531.2" cy="364.6" r="4.2" fill="#343434"/>
<circle cx="531.2" cy="363.5" r="1.13" fill="#fff"/>
<path d="M529.0,366.9 a2.18,2.10 0 0 1 4.37,0 z" fill="#fff"/>
<circle cx="513.8" cy="389.2" r="6.2" fill="#343434"/>
<circle cx="513.8" cy="387.7" r="1.66" fill="#fff"/>
<path d="M510.6,392.6 a3.20,3.08 0 0 1 6.41,0 z" fill="#fff"/>
<circle cx="492.8" cy="375.8" r="3.1" fill="#343434"/>
<circle cx="492.8" cy="375.0" r="0.83" fill="#fff"/>
<path d="M491.2,377.5 a1.60,1.54 0 0 1 3.20,0 z" fill="#fff"/>
<circle cx="470.1" cy="369.6" r="2.5" fill="#343434"/>
<circle cx="470.1" cy="369.0" r="0.68" fill="#fff"/>
<path d="M468.8,371.0 a1.31,1.26 0 0 1 2.62,0 z" fill="#fff"/>
<circle cx="476.0" cy="392.6" r="2.2" fill="#343434"/>
<circle cx="446.3" cy="380.8" r="9.8" fill="#fff" fill-opacity="0.85" stroke="#999" stroke-width="0.4"/>
<circle cx="446.3" cy="380.8" r="7.7" fill="none" stroke="#777" stroke-width="0.4"/>
<circle cx="446.3" cy="380.8" r="5.6" fill="#343434"/>
<circle cx="446.3" cy="379.4" r="1.51" fill="#fff"/>
<path d="M443.4,383.9 a2.91,2.80 0 0 1 5.82,0 z" fill="#fff"/>
<circle cx="414.2" cy="386.4" r="3.4" fill="#343434"/>
<circle cx="414.2" cy="385.6" r="0.91" fill="#fff"/>
<path d="M412.4,388.3 a1.75,1.68 0 0 1 3.49,0 z" fill="#fff"/>
<circle cx="387.8" cy="408.8" r="7.8" fill="#fff" fill-opacity="0.85" stroke="#999" stroke-width="0.4"/>
<circle cx="387.8" cy="408.8" r="6.3" fill="none" stroke="#777" stroke-width="0.4"/>
<circle cx="387.8" cy="408.8" r="4.8" fill="#343434"/>
<circle cx="387.8" cy="407.6" r="1.28" fill="#fff"/>
<path d="M385.4,411.4 a2.47,2.38 0 0 1 4.95,0 z" fill="#fff"/>
<circle cx="402.4" cy="357.6" r="10.6" fill="#fff" fill-opacity="0.85" stroke="#999" stroke-width="0.4"/>
<circle cx="402.4" cy="357.6" r="8.1" fill="none" stroke="#777" stroke-width="0.4"/>
<circle cx="402.4" cy="357.6" r="5.6" fill="#fff" stroke="#555" stroke-width="0.5"/>
<circle cx="400.2" cy="356.6" r="0.8" fill="#333"/>
<circle cx="402.4" cy="356.6" r="0.8" fill="#333"/>
<circle cx="404.6" cy="356.6" r="0.8" fill="#333"/>
<rect x="398.8" y="357.9" width="7.2" height="1.6" fill="#333"/>
<circle cx="423.4" cy="319.2" r="3.9" fill="#343434"/>
<circle cx="423.4" cy="318.3" r="1.06" fill="#fff"/>
<path d="M421.4,321.4 a2.04,1.96 0 0 1 4.08,0 z" fill="#fff"/>
<circle cx="451.4" cy="324.8" r="6.2" fill="#fff" fill-opacity="0.85" stroke="#999" stroke-width="0.4"/>
<circle cx="451.4" cy="324.8" r="4.9" fill="none" stroke="#777" stroke-width="0.4"/>
<circle cx="451.4" cy="324.8" r="3.6" fill="#343434"/>
<circle cx="451.4" cy="323.9" r="0.98" fill="#fff"/>
<path d="M449.5,326.8 a1.89,1.82 0 0 1 3.78,0 z" fill="#fff"/>
<circle cx="452.2" cy="353.4" r="2.5" fill="#343434"/>
<circle cx="452.2" cy="352.8" r="0.68" fill="#fff"/>
<path d="M450.9,354.8 a1.31,1.26 0 0 1 2.62,0 z" fill="#fff"/>
<circle cx="485.3" cy="336.3" r="11.2" fill="#6a6a6a" fill-opacity="0.55" stroke="#3a3a3a" stroke-width="0.6"/>
<circle cx="479.9" cy="333.4" r="1.9" fill="#2b2b2b"/>
<path d="M477.2,339.7 v-1.6 a2.7,2.4 0 0 1 5.4,0 v1.6 z" fill="#2b2b2b"/>
<circle cx="485.3" cy="333.4" r="1.9" fill="#2b2b2b"/>
<path d="M482.6,339.7 v-1.6 a2.7,2.4 0 0 1 5.4,0 v1.6 z" fill="#2b2b2b"/>
<circle cx="490.7" cy="333.4" r="1.9" fill="#2b2b2b"/>
<path d="M488.0,339.7 v-1.6 a2.7,2.4 0 0 1 5.4,0 v1.6 z" fill="#2b2b2b"/>
<rect x="476.7" y="338.5" width="17.2" height="1.6" fill="#2b2b2b"/>
<circle cx="431.0" cy="342.2" r="2.0" fill="#343434"/>
<circle cx="441.6" cy="397.6" r="1.4" fill="#343434"/>
<circle cx="369.2" cy="302.7" r="1.6" fill="#333"/>
<circle cx="374.6" cy="306" r="1.6" fill="#333"/>
<circle cx="376.6" cy="355.7" r="1.4" fill="#333"/>
<circle cx="384" cy="355.7" r="1.4" fill="#333"/>
<circle cx="571" cy="343" r="1.4" fill="#333"/>
<circle cx="578.5" cy="343" r="1.4" fill="#333"/>
<circle cx="523" cy="398.3" r="1.5" fill="#333"/>
<circle cx="529.2" cy="401.6" r="1.5" fill="#333"/>
<circle cx="438.8" cy="404.5" r="1.2" fill="#333"/>
<circle cx="481.5" cy="289" r="1.2" fill="#333"/>
<circle cx="482" cy="296.5" r="1.2" fill="#333"/>
</g>
</svg>
</body></html>
